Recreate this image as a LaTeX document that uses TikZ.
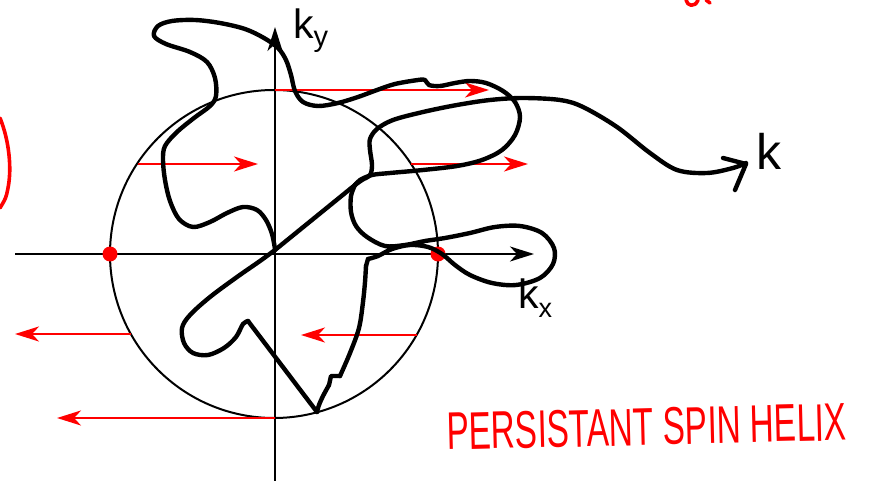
\documentclass[tikz,border=0pt]{standalone}
\usepackage{fontspec}
\setmainfont{Liberation Sans}
\usetikzlibrary{arrows.meta}
\definecolor{inkred}{RGB}{255,0,0}
\tikzset{
  axisline/.style={line width=2pt, -{Stealth[length=24pt,width=15pt,inset=7pt]}},
  ring/.style={circle, draw=black, line width=2pt, minimum size=328pt, inner sep=0pt},
  spinarrow/.style={draw=inkred, line width=2.6pt, -{Stealth[length=24pt,width=15pt,inset=7pt]}},
  ink/.style={draw=black, line width=4.4pt, line cap=round, line join=round},
  redink/.style={draw=inkred, line width=3.6pt, line cap=round, line join=round},
  reddot/.style={circle, fill=inkred, inner sep=0pt, minimum size=15pt},
  axlabel/.style={font=\fontsize{41}{41}\selectfont, inner sep=0pt, anchor=base west},
}
\begin{document}
\begin{tikzpicture}[x=1pt,y=-1pt]
\useasboundingbox (0,0) rectangle (872,481);
\fill[white] (0,0) rectangle (872,481);
% axes
\coordinate (xs) at (15,254);
\coordinate (xe) at (534,254);
\coordinate (ys) at (275,481);
\coordinate (ye) at (275,27);
\draw[axisline] (xs) -- (xe);
\draw[axisline] (ys) -- (ye);
% Fermi circle
\node[ring] (fermi) at (274,254) {};
% spin arrows
\coordinate (a1s) at (275,90);  \coordinate (a1e) at (489,90);
\coordinate (a2s) at (138,164); \coordinate (a2e) at (258,164);
\coordinate (a3s) at (411,164); \coordinate (a3e) at (528,164);
\coordinate (a4s) at (131,334); \coordinate (a4e) at (15,334);
\coordinate (a5s) at (417,335); \coordinate (a5e) at (301,335);
\coordinate (a6s) at (275,418); \coordinate (a6e) at (57,418);
\draw[spinarrow] (a1s) -- (a1e);
\draw[spinarrow] (a2s) -- (a2e);
\draw[spinarrow] (a3s) -- (a3e);
\draw[spinarrow] (a4s) -- (a4e);
\draw[spinarrow] (a5s) -- (a5e);
\draw[spinarrow] (a6s) -- (a6e);
% red dots
\node[reddot] (dotl) at (110,254) {};
\node[reddot] (dotr) at (438,254) {};
% freehand trajectory
\draw[ink] plot[smooth, tension=0.55] coordinates {
 (275,249) (272,234) (266,220) (257,210) (243,207) (227,213) (210,222) (193,227)
 (179,219) (170,201) (165,180) (163,160) (165,146) (177,132) (194,118) (210,106)
 (216,96) (215,78) (207,62) (190,52) (166,44) (154,36) (158,26) (172,21) (195,20)
 (220,23) (245,29) (264,38) (278,48) (286,60) (291,75) (295,91) (303,102) (318,106)
 (338,103) (358,97) (377,90) (395,84) (418,80) (425,80) (429,85) (440,86) (455,83)
 (470,81) (486,83) (503,91) (515,102) (520,117) (515,135) (502,150) (482,160)
 (457,166) (423,170) (390,173) (372,175) (360,180) (355,185)};
\draw[ink] plot[smooth, tension=0.55] coordinates {
 (355,185) (351,196) (351,212) (356,226) (367,237) (385,246) (405,245) (425,241)
 (445,238) (470,233) (495,227) (520,226) (542,233) (554,248) (553,264) (540,278)
 (516,285) (492,283) (470,275) (455,265) (442,254) (428,247) (410,245) (392,249)
 (378,256) (368,259)};
\draw[ink] (368,259) -- (366,266);
\draw[ink] plot[smooth, tension=0.55] coordinates {
 (366,266) (365,282) (363,302) (359,328) (350,353) (340,376)};
\draw[ink] (340,376) -- (331,376) -- (329,385);
\draw[ink] plot[smooth, tension=0.55] coordinates {
 (329,385) (323,396) (319,405) (317,412)};
\draw[ink] (317,412) -- (248,321);
\draw[ink] plot[smooth, tension=0.55] coordinates {
 (248,321) (243,324) (236,337) (224,348) (208,355) (193,353) (184,343) (182,328)
 (190,315) (210,297) (237,277) (260,261) (275,250)};
\draw[ink] (275,250) -- (355,185);
\draw[ink] plot[smooth, tension=0.55] coordinates {
 (355,185) (362,180) (370,175) (372,165) (370,150) (370,139) (377,129) (393,120)
 (423,112) (457,105) (490,100) (523,98) (560,100) (583,107) (617,127) (650,153)
 (677,170) (707,173) (733,168) (746,163)};
\coordinate (hk1) at (723,158);
\coordinate (hk2) at (746,164);
\coordinate (hk3) at (735,190);
\draw[ink] (hk1) -- (hk2) -- (hk3);
% labels
\node[axlabel] (ky) at (293,39) {k\raisebox{-8pt}{\fontsize{29}{29}\selectfont y}};
\node[axlabel] (kx) at (518,308) {k\raisebox{-9pt}{\fontsize{27}{27}\selectfont x}};
\node[inner sep=0pt, anchor=base west, font=\fontsize{50}{50}\selectfont] (klab) at (756,170) {k};
\node[inner sep=0pt, anchor=base west, rotate=1.4, text=inkred, font=\fontsize{53}{53}\selectfont] (title) at (447,450) {\scalebox{0.63}[1]{PERSISTANT SPIN HELIX}};
% cropped red marks
\draw[redink] (0,118) .. controls (9,140) and (12,168) .. (8,188) .. controls (6,198) .. (0,208);
\draw[redink] (686,0) .. controls (687,6) and (695,8) .. (698,0);
\draw[redink] (706,0) -- (710,3);
\end{tikzpicture}
\end{document}
